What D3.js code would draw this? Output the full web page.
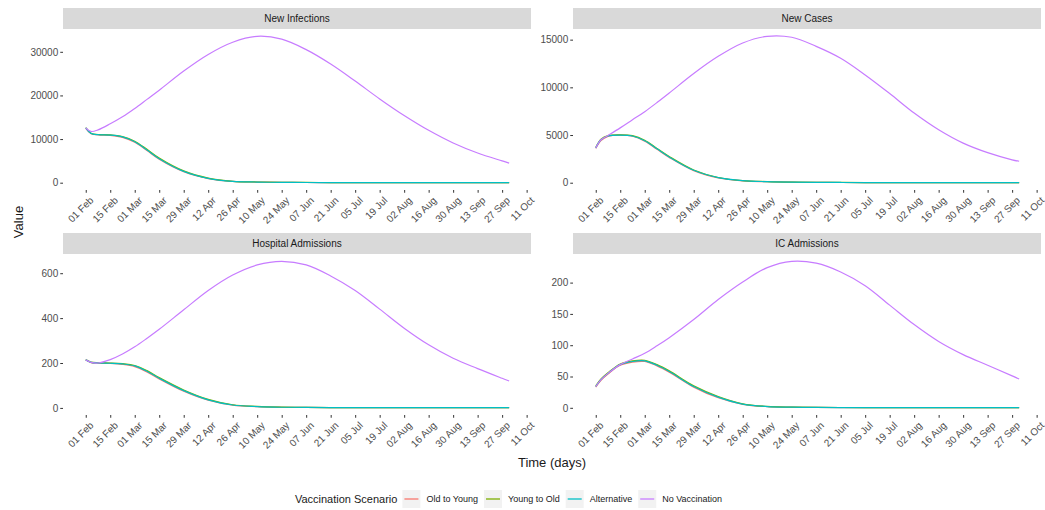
<!DOCTYPE html>
<html>
<head>
<meta charset="utf-8">
<script src="https://cdn.jsdelivr.net/npm/d3@7"></script>
<style>
  body { margin: 0; background: #fff; }
  svg { font-family: "Liberation Sans", Arial, sans-serif; }
</style>
</head>
<body>
<svg id="chart" width="1045" height="510"></svg>
<script>
const dayOffsets = [0, 3, 7, 14, 21, 28, 35, 42, 56, 70, 84, 98, 112, 126, 140, 154, 168, 182, 196, 210, 224, 238, 242];

const scenarios = ["Old to Young", "Young to Old", "Alternative", "No Vaccination"];
const scenarioColors = ["#F8766D", "#7CAE00", "#00BFC4", "#C77CFF"];

// New Infections
const infectionsOldYoung = [12450, 11250, 10950, 10850, 10400, 9250, 7350, 5350, 2500, 950, 280, 140, 75, 45, 28, 18, 13, 9, 7, 5, 4, 4, 3];
const infectionsYoungOld = [12600, 11350, 11050, 10950, 10550, 9500, 7650, 5650, 2700, 1050, 320, 160, 85, 55, 32, 22, 16, 11, 9, 7, 6, 5, 5];
const infectionsAlt = [12550, 11300, 11000, 10900, 10500, 9400, 7500, 5500, 2600, 1000, 300, 150, 80, 50, 30, 20, 15, 10, 8, 6, 5, 4, 4];
const infectionsNone = [12550, 11750, 12100, 13500, 15100, 17000, 19100, 21200, 25600, 29400, 32200, 33550, 32900, 30500, 27200, 23300, 19200, 15400, 12000, 9100, 6800, 5000, 4500];

// New Cases
const casesOldYoung = [3600, 4420, 4860, 4980, 4870, 4350, 3500, 2650, 1260, 510, 200, 105, 58, 38, 24, 14, 10, 7, 6, 5, 4, 3, 3];
const casesYoungOld = [3700, 4560, 4940, 5020, 4930, 4450, 3600, 2750, 1340, 550, 220, 115, 62, 42, 26, 16, 11, 8, 7, 5, 4, 3, 3];
const casesAlt = [3650, 4500, 4900, 5000, 4900, 4400, 3550, 2700, 1300, 530, 210, 110, 60, 40, 25, 15, 10, 8, 6, 5, 4, 3, 3];
const casesNone = [3650, 4500, 4950, 5750, 6600, 7450, 8400, 9400, 11450, 13250, 14650, 15350, 15250, 14300, 13050, 11300, 9350, 7300, 5550, 4150, 3150, 2400, 2250];

// Hospital Admissions
const hospitalOldYoung = [213, 202, 199, 198, 194, 184, 160, 129, 74, 34, 12, 5.5, 3, 2, 1.4, 1.1, 1, 1, 1, 1, 1, 1, 1];
const hospitalYoungOld = [215, 204, 201, 200, 197, 189, 166, 135, 80, 38, 14, 6.5, 3.2, 2.1, 1.6, 1.3, 1, 1, 1, 1, 1, 1, 1];
const hospitalAlt = [214, 203, 200, 199, 196, 187, 163, 132, 77, 36, 13, 6, 3, 2, 1.5, 1.2, 1, 1, 1, 1, 1, 1, 1];
const hospitalNone = [214, 203, 200, 215, 240, 272, 310, 350, 437, 523, 592, 637, 653, 637, 588, 523, 440, 355, 281, 221, 175, 132, 120];

// IC Admissions
const icOldYoung = [33, 44, 54, 68, 73, 74, 67, 57, 33, 16, 5.6, 1.9, 1, 0.6, 0.4, 0.3, 0.3, 0.2, 0.2, 0.2, 0.2, 0.2, 0.2];
const icYoungOld = [35, 46, 56, 70, 75, 76, 69, 59, 35, 18, 6.4, 2.2, 1.1, 0.7, 0.5, 0.4, 0.3, 0.3, 0.2, 0.2, 0.2, 0.2, 0.2];
const icAlt = [34, 45, 55, 69, 74, 75, 68, 58, 34, 17, 6, 2, 1, 0.6, 0.4, 0.3, 0.3, 0.2, 0.2, 0.2, 0.2, 0.2, 0.2];
const icNone = [34, 45, 55, 69, 78, 87, 99, 112, 141, 173, 201, 224, 234, 231, 217, 195, 164, 133, 106, 85, 68, 51, 46];

const panelTitles = ["New Infections", "New Cases", "Hospital Admissions", "IC Admissions"];
const infectionsTicks = [0, 10000, 20000, 30000];
const casesTicks = [0, 5000, 10000, 15000];
const hospitalTicks = [0, 200, 400, 600];
const icTicks = [0, 50, 100, 150, 200];

const xTickDates = ["2021-02-01", "2021-02-15", "2021-03-01", "2021-03-15", "2021-03-29", "2021-04-12",
  "2021-04-26", "2021-05-10", "2021-05-24", "2021-06-07", "2021-06-21", "2021-07-05", "2021-07-19",
  "2021-08-02", "2021-08-16", "2021-08-30", "2021-09-13", "2021-09-27", "2021-10-11"];

// layout
const panelW = 468, stripH = 21, plotH = 161;
const colX = [63, 573], rowY = [8, 233];

const svg = d3.select("#chart");
const parseDay = d3.timeParse("%Y-%m-%d");
const startDate = parseDay("2021-02-01");

const panels = [
  { title: panelTitles[0], series: [infectionsOldYoung, infectionsYoungOld, infectionsAlt, infectionsNone], ticks: infectionsTicks },
  { title: panelTitles[1], series: [casesOldYoung, casesYoungOld, casesAlt, casesNone], ticks: casesTicks },
  { title: panelTitles[2], series: [hospitalOldYoung, hospitalYoungOld, hospitalAlt, hospitalNone], ticks: hospitalTicks },
  { title: panelTitles[3], series: [icOldYoung, icYoungOld, icAlt, icNone], ticks: icTicks }
];

const xScale = d3.scaleTime()
  .domain([parseDay("2021-01-19"), new Date(2021, 9, 13, 12)])
  .range([0, panelW]);

panels.forEach((panel, i) => {
  const g = svg.append("g")
    .attr("transform", `translate(${colX[i % 2]},${rowY[Math.floor(i / 2)]})`);

  // strip
  g.append("rect")
    .attr("width", panelW).attr("height", stripH)
    .attr("fill", "#d9d9d9");
  g.append("text")
    .attr("x", panelW / 2).attr("y", stripH / 2)
    .attr("text-anchor", "middle").attr("dominant-baseline", "central")
    .style("font-size", "10px").attr("fill", "#1a1a1a")
    .text(panel.title);

  const plot = g.append("g").attr("transform", `translate(0,${stripH})`);

  // 5% expansion like ggplot
  const allVals = panel.series.flat();
  const lo = d3.min(allVals), hi = d3.max(allVals);
  const pad = (hi - lo) * 0.05;
  const yScale = d3.scaleLinear().domain([lo - pad, hi + pad]).range([plotH, 0]);

  const yAxis = plot.append("g")
    .call(d3.axisLeft(yScale).tickValues(panel.ticks).tickSize(2.75).tickPadding(2).tickFormat(d3.format("d")));
  yAxis.select(".domain").remove();
  yAxis.selectAll("line").attr("stroke", "#333");
  yAxis.selectAll("text").style("font-size", "10px").attr("fill", "#4d4d4d");

  const xAxis = plot.append("g")
    .attr("transform", `translate(0,${plotH})`)
    .call(d3.axisBottom(xScale).tickValues(xTickDates.map(parseDay)).tickSize(2.75).tickFormat(d3.timeFormat("%d %b")));
  xAxis.select(".domain").remove();
  xAxis.selectAll("line").attr("stroke", "#333");
  xAxis.selectAll("text")
    .style("font-size", "10px").attr("fill", "#4d4d4d")
    .attr("text-anchor", "end")
    .attr("x", 0).attr("y", 0).attr("dy", "0.7em")
    .attr("transform", "translate(3,6) rotate(-45)");

  const line = d3.line()
    .x((d, k) => xScale(d3.timeDay.offset(startDate, dayOffsets[k])))
    .y(d => yScale(d))
    .curve(d3.curveCatmullRom.alpha(0.5));

  plot.selectAll("path.series")
    .data(panel.series)
    .enter()
    .append("path")
    .attr("class", "series")
    .attr("fill", "none")
    .attr("stroke", (d, k) => scenarioColors[k])
    .attr("stroke-width", 1.2)
    .attr("d", d => line(d));
});

// axis titles
svg.append("text")
  .attr("x", 552).attr("y", 467)
  .attr("text-anchor", "middle")
  .style("font-size", "13px").attr("fill", "#1a1a1a")
  .text("Time (days)");

svg.append("text")
  .attr("transform", "translate(18,222) rotate(-90)")
  .attr("text-anchor", "middle").attr("dominant-baseline", "central")
  .style("font-size", "13px").attr("fill", "#1a1a1a")
  .text("Value");

// legend
const legend = svg.append("g");
const legendY = 499;
const legendTitle = legend.append("text")
  .attr("y", legendY).attr("dominant-baseline", "central")
  .style("font-size", "11px").attr("fill", "#1a1a1a")
  .text("Vaccination Scenario");

let lx = legendTitle.node().getComputedTextLength() + 5;
scenarios.forEach((name, k) => {
  legend.append("rect")
    .attr("x", lx).attr("y", legendY - 9)
    .attr("width", 18).attr("height", 18)
    .attr("fill", "#f2f2f2");
  legend.append("line")
    .attr("x1", lx + 2).attr("x2", lx + 16)
    .attr("y1", legendY).attr("y2", legendY)
    .attr("stroke", scenarioColors[k]).attr("stroke-width", 1.3);
  const label = legend.append("text")
    .attr("x", lx + 24).attr("y", legendY).attr("dominant-baseline", "central")
    .style("font-size", "9px").attr("fill", "#1a1a1a")
    .text(name);
  lx += 24 + label.node().getComputedTextLength() + 6;
});
const legendW = lx - 6;
legend.attr("transform", `translate(${508.5 - legendW / 2},0)`);
</script>
</body>
</html>
